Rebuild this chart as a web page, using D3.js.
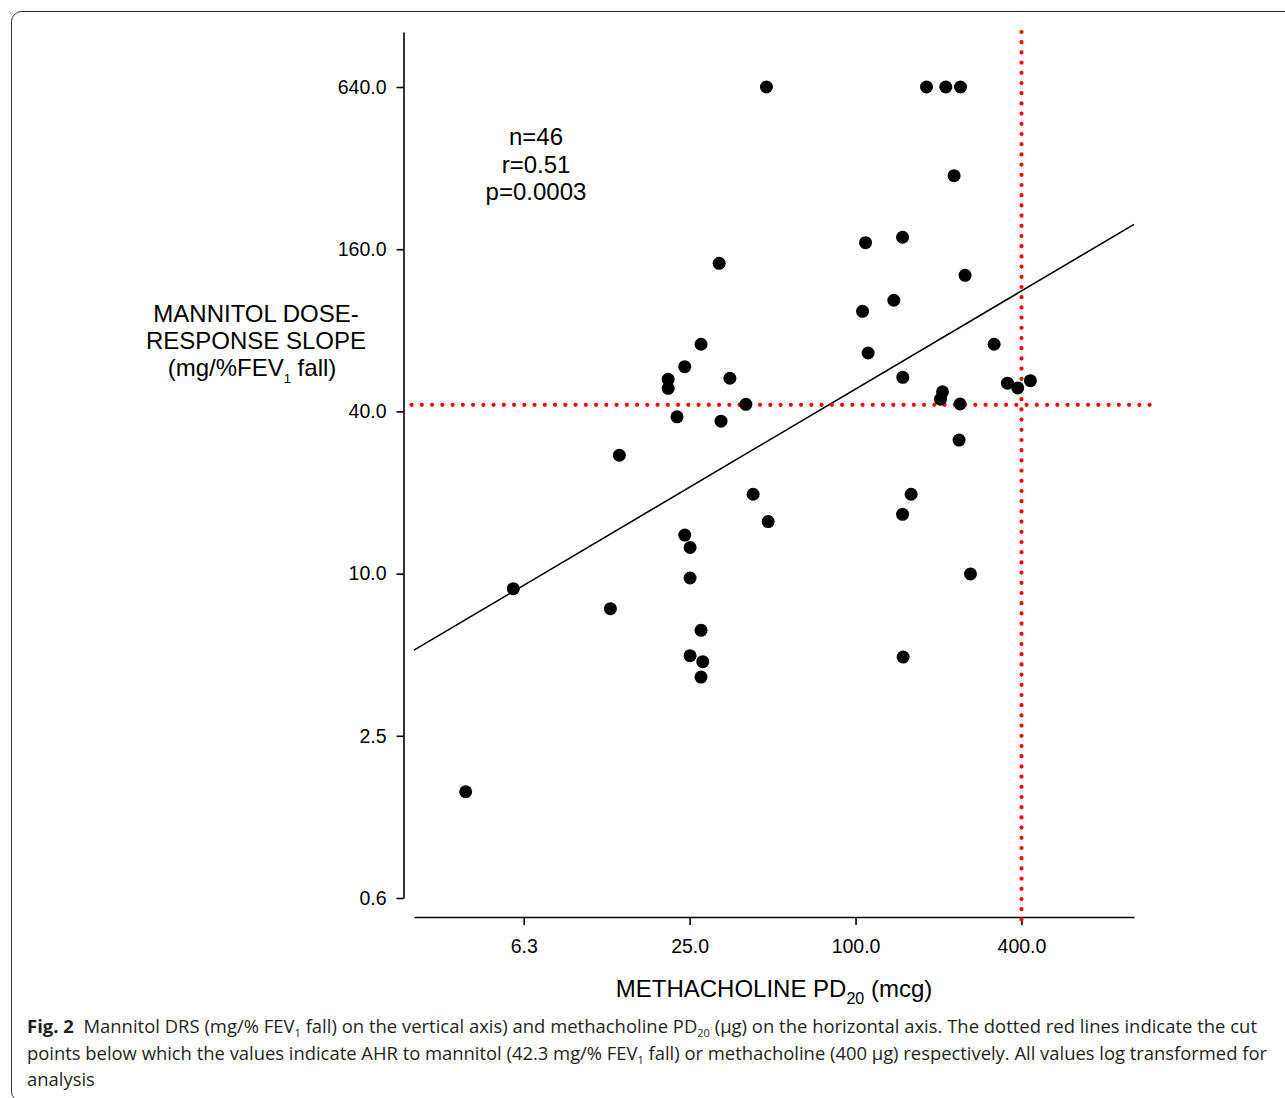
<!DOCTYPE html>
<html>
<head>
<meta charset="utf-8">
<script src="https://cdn.jsdelivr.net/npm/d3@7"></script>
<style>
body { margin: 0; background: #fff; }
</style>
</head>
<body>
<script>
var width = 1285;
var height = 1098;

// methacholine PD20 (mcg) and mannitol DRS (mg/%FEV1 fall), one entry per subject
var mch = [32.0, 27.5, 24.0, 20.9, 20.9, 35.0, 40.0, 22.5, 32.5, 47.5,
           180.9, 212.5, 240.3, 227.8, 108.7, 148.1, 249.7, 137.7, 106.0, 111.1,
           318.2, 148.4, 355.8, 387.7, 431.0, 206.8, 203.3, 239.5, 237.5, 13.9,
           5.73, 12.9, 42.5, 48.2, 24.0, 25.1, 25.1, 27.5, 25.1, 27.9,
           27.5, 159.1, 148.1, 261.2, 148.8, 3.85];
var drs = [141.8, 71.0, 58.6, 52.6, 48.7, 53.1, 42.5, 38.2, 36.8, 640,
           640, 640, 640, 300, 169.2, 177.2, 128.0, 103.4, 94.1, 65.9,
           71.0, 53.5, 50.9, 48.9, 52.0, 47.3, 44.4, 42.6, 31.3, 27.5,
           8.79, 7.41, 19.7, 15.6, 13.9, 12.5, 9.63, 6.16, 4.96, 4.71,
           4.13, 19.7, 16.6, 9.97, 4.90, 1.55];

var xTicks = [6.25, 25, 100, 400];
var xTickLabels = ["6.3", "25.0", "100.0", "400.0"];
var yTicks = [0.625, 2.5, 10, 40, 160, 640];
var yTickLabels = ["0.6", "2.5", "10.0", "40.0", "160.0", "640.0"];

var stats = ["n=46", "r=0.51", "p=0.0003"];

// log10(drs) = a + b * log10(mch)
var fit_a = 0.475;
var fit_b = 0.605;

var cut_drs = 42.3;
var cut_mch = 400;
var cut_h_extent = [2.45, 1260];
var cut_v_extent = [0.51, 1024];

var caption = [
    [["Fig. 2", "b"], ["  Mannitol DRS (mg/% FEV", ""], ["1", "s"], [" fall) on the vertical axis) and methacholine PD", ""], ["20", "s"], [" (\u00b5g) on the horizontal axis. The dotted red lines indicate the cut", ""]],
    [["points below which the values indicate AHR to mannitol (42.3 mg/% FEV", ""], ["1", "s"], [" fall) or methacholine (400 \u00b5g) respectively. All values log transformed for", ""]],
    [["analysis", ""]]
];
var captionWidths = [1230, 1240, null];

var font = "'Liberation Sans', Arial, sans-serif";

var svg = d3.select("body")
    .append("svg")
    .attr("width", width)
    .attr("height", height);

svg.append("rect")
    .attr("x", 11.5)
    .attr("y", 11.5)
    .attr("width", 1400)
    .attr("height", 1090)
    .attr("rx", 10)
    .attr("fill", "none")
    .attr("stroke", "#333")
    .attr("stroke-width", 1);

var x = d3.scaleLog().domain([2.5, 1024]).range([414, 1134]);
var y = d3.scaleLog().domain([0.625, 1024]).range([898, 32]);

var xAxis = d3.axisBottom(x)
    .tickValues(xTicks)
    .tickFormat(function(d, i) { return xTickLabels[i]; })
    .tickSize(8)
    .tickSizeOuter(0)
    .tickPadding(14);

var yAxis = d3.axisLeft(y)
    .tickValues(yTicks)
    .tickFormat(function(d, i) { return yTickLabels[i]; })
    .tickSize(7)
    .tickSizeOuter(0)
    .tickPadding(10);

var gx = svg.append("g")
    .attr("transform", "translate(0,917)")
    .call(xAxis);

var gy = svg.append("g")
    .attr("transform", "translate(403.5,0)")
    .call(yAxis);

[gx, gy].forEach(function(g) {
    g.select(".domain").attr("stroke", "#000").attr("stroke-width", 1.6);
    g.selectAll(".tick line").attr("stroke", "#000").attr("stroke-width", 1.6);
    g.selectAll(".tick text")
        .attr("font-family", font)
        .attr("font-size", "19.5px")
        .attr("fill", "#000");
});

// regression line
var fitLine = d3.line()
    .x(function(d) { return x(d); })
    .y(function(d) { return y(Math.pow(10, fit_a + fit_b * Math.log10(d))); });

svg.append("path")
    .datum(x.domain())
    .attr("d", fitLine)
    .attr("fill", "none")
    .attr("stroke", "#000")
    .attr("stroke-width", 1.6);

// cut point lines
svg.append("line")
    .attr("x1", x(cut_h_extent[0]))
    .attr("x2", x(cut_h_extent[1]))
    .attr("y1", y(cut_drs))
    .attr("y2", y(cut_drs))
    .attr("stroke", "#ff0000")
    .attr("stroke-width", 4.2)
    .attr("stroke-linecap", "round")
    .attr("stroke-dasharray", "0,10.25");

svg.append("line")
    .attr("x1", x(cut_mch))
    .attr("x2", x(cut_mch))
    .attr("y1", y(cut_v_extent[1]))
    .attr("y2", y(cut_v_extent[0]))
    .attr("stroke", "#ff0000")
    .attr("stroke-width", 4.2)
    .attr("stroke-linecap", "round")
    .attr("stroke-dasharray", "0,10.2");

// points
svg.selectAll("circle.pt")
    .data(d3.range(mch.length))
    .enter()
    .append("circle")
    .attr("class", "pt")
    .attr("cx", function(i) { return x(mch[i]); })
    .attr("cy", function(i) { return y(drs[i]); })
    .attr("r", 6.5)
    .attr("fill", "#000");

// stats
svg.selectAll("text.stat")
    .data(stats)
    .enter()
    .append("text")
    .attr("class", "stat")
    .attr("x", 536)
    .attr("y", function(d, i) { return 145 + i * 27.5; })
    .attr("text-anchor", "middle")
    .attr("font-family", font)
    .attr("font-size", "24px")
    .attr("fill", "#000")
    .text(function(d) { return d; });

// y title
var yt = svg.append("g")
    .attr("font-family", font)
    .attr("font-size", "24px")
    .attr("fill", "#000")
    .attr("text-anchor", "middle");
yt.append("text").attr("x", 256).attr("y", 322).text("MANNITOL DOSE-");
yt.append("text").attr("x", 256).attr("y", 349).text("RESPONSE SLOPE");
var yt3 = yt.append("text").attr("x", 252).attr("y", 376);
yt3.append("tspan").text("(mg/%FEV");
yt3.append("tspan").attr("font-size", "13px").attr("dy", 7).text("1");
yt3.append("tspan").attr("dy", -7).text(" fall)");

// x title
var xt = svg.append("text")
    .attr("x", 774)
    .attr("y", 997)
    .attr("text-anchor", "middle")
    .attr("font-family", font)
    .attr("font-size", "24px")
    .attr("fill", "#000");
xt.append("tspan").text("METHACHOLINE PD");
xt.append("tspan").attr("font-size", "16px").attr("dy", 7).text("20");
xt.append("tspan").attr("dy", -7).text(" (mcg)");

// caption
var capFont = "'Open Sans', 'Noto Sans', sans-serif";
var capSize = 17;
var capLines = svg.selectAll("text.cap")
    .data(caption)
    .enter()
    .append("text")
    .attr("class", "cap")
    .attr("x", 27)
    .attr("y", function(d, i) { return 1033 + i * 26.5; })
    .attr("font-family", capFont)
    .attr("font-size", capSize + "px")
    .attr("fill", "#231f20")
    .style("white-space", "pre");

capLines.each(function(line) {
    var t = d3.select(this);
    var shifted = false;
    line.forEach(function(seg) {
        var ts = t.append("tspan").text(seg[0]);
        if (seg[1] === "b") ts.attr("font-weight", "bold");
        if (seg[1] === "s") {
            ts.attr("font-size", "11px").attr("dy", 4);
            shifted = true;
        } else if (shifted) {
            ts.attr("dy", -4);
            shifted = false;
        }
    });
});

// fit caption font size to the first line width, then stretch line spacing
var w0 = capLines.node().getComputedTextLength();
capSize = capSize * captionWidths[0] / w0;
capLines.attr("font-size", capSize + "px");
capLines.each(function(line, i) {
    if (captionWidths[i]) {
        d3.select(this)
            .attr("textLength", captionWidths[i])
            .attr("lengthAdjust", "spacing");
    }
});
</script>
</body>
</html>
